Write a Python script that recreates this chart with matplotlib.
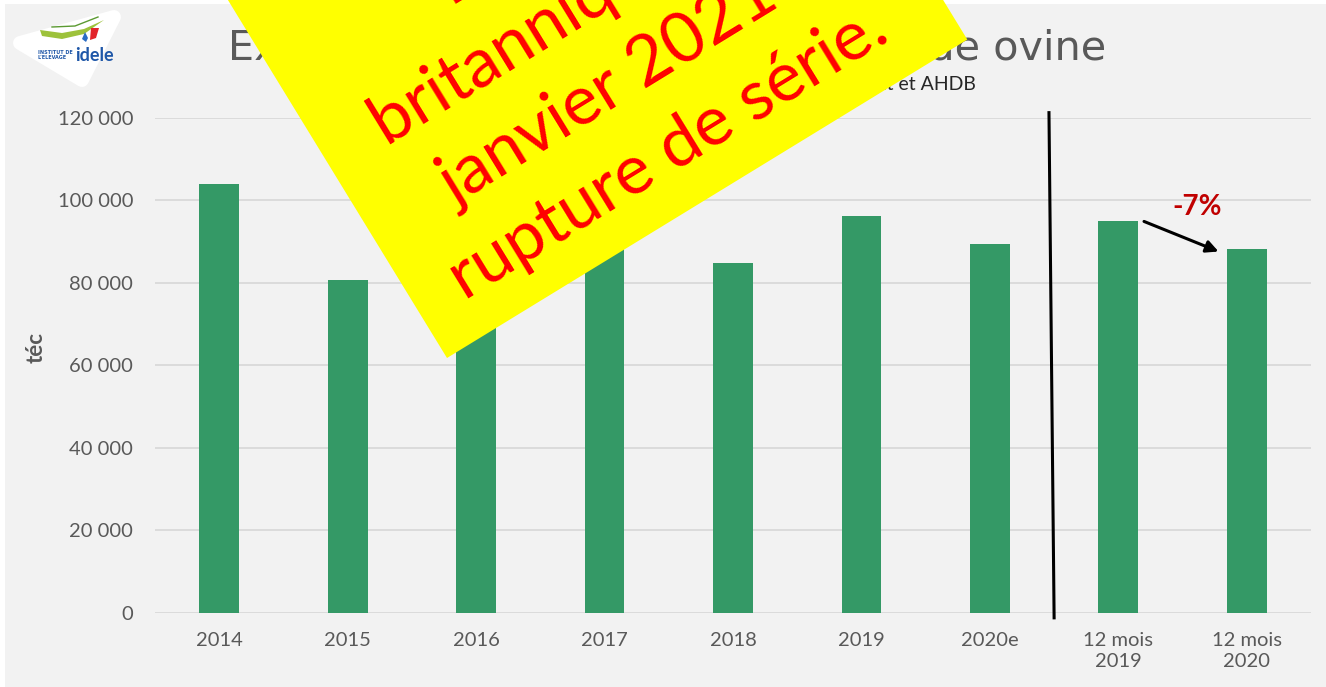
import matplotlib
matplotlib.use('Agg')
import matplotlib.pyplot as plt
from matplotlib.patches import Polygon, Rectangle
from matplotlib.lines import Line2D

# données : exportations britanniques de viande ovine (téc)
categories = ['2014', '2015', '2016', '2017', '2018', '2019', '2020e',
              '12 mois\n2019', '12 mois\n2020']
exports = [104100, 80800, 88000, 94000, 84700, 96300, 89400, 94900, 88200]
yticks = [0, 20000, 40000, 60000, 80000, 100000, 120000]
note_lines = ['Brexit :', 'britanniques en', 'janvier 2021 :',
              'rupture de série.']

W, H = 1326, 687
GREY = '#595959'


def fx(px):
    return px / W


def fy(py):
    return 1 - py / H


fig = plt.figure(figsize=(W / 100, H / 100), dpi=100)
fig.patch.set_facecolor('white')
# fond gris de la diapo
fig.add_artist(Rectangle((fx(5), 0), 1, fy(4), transform=fig.transFigure,
                         facecolor='#f2f2f2', edgecolor='none', zorder=-10))

ax = fig.add_axes([fx(155), fy(612.5), (1311 - 155) / W, (612.5 - 118) / H])
ax.set_facecolor('none')
x = list(range(len(categories)))
ax.bar(x, exports, width=0.31, color='#349966', zorder=3)
ax.set_xlim(-0.5, len(categories) - 0.5)
ax.set_ylim(0, 120000)
ax.set_yticks(yticks)
ax.set_yticklabels([f'{v:,}'.replace(',', ' ') for v in yticks])
ax.set_xticks(x)
ax.set_xticklabels(categories, linespacing=1.25)
ax.grid(axis='y', color='#d9d9d9', lw=1.3, zorder=0)
ax.set_axisbelow(True)
for s in ax.spines.values():
    s.set_visible(False)
ax.tick_params(axis='y', length=0, pad=15.8, labelsize=14.5, labelcolor=GREY)
ax.tick_params(axis='x', length=0, pad=14.4, labelsize=14.5, labelcolor=GREY)
for lab in ax.get_xticklabels() + ax.get_yticklabels():
    lab.set_family('Lato')
ax.set_ylabel('téc', fontweight='bold', color=GREY, fontsize=16, family='Lato')
ax.yaxis.set_label_coords(-0.094, 0.535)

# séparation annuel / cumul 12 mois
ax.plot([6.46, 6.5], [121300, -1300], color='black', lw=2.2,
        clip_on=False, zorder=4)

# flèche et variation
ax.annotate('', xy=(7.78, exports[8] - 600), xytext=(7.2, exports[7]),
            arrowprops=dict(arrowstyle='-|>', color='black', lw=2.2,
                            mutation_scale=18, shrinkA=0, shrinkB=0),
            zorder=5)
pct = (exports[8] / exports[7] - 1) * 100
ax.text(7.61, 98300, f'{pct:.0f}%', ha='center', va='center',
        fontsize=20, fontweight='bold', color='#c00000', family='Lato')

# titre et source
fig.text(fx(228), fy(60), 'Exportations britanniques de viande ovine',
         ha='left', va='baseline', fontsize=29.8, color=GREY,
         family='DejaVu Sans')
fig.text(fx(976), fy(90),
         "Source : GEB-Institut de l'Elevage d'après Eurostat et AHDB",
         ha='right', va='baseline', fontsize=14, color='#262626', family='Lato')

# logo
fig.add_artist(Polygon([(fx(20), fy(43)), (fx(114), fy(17)), (fx(82), fy(80))],
                       closed=True, transform=fig.transFigure, facecolor='white',
                       edgecolor='white', lw=10, joinstyle='round', zorder=1))
fig.add_artist(Polygon([(fx(40), fy(30)), (fx(62), fy(33)), (fx(84), fy(29)),
                        (fx(104), fy(20)), (fx(84), fy(34)), (fx(62), fy(39)),
                        (fx(42), fy(36))], closed=True,
                       transform=fig.transFigure, facecolor='#9dc23b',
                       edgecolor='none', zorder=2))
fig.add_artist(Line2D([fx(52), fx(75), fx(98)], [fy(27), fy(26), fy(17)],
                      transform=fig.transFigure, color='#5b9a32', lw=1.0,
                      zorder=2))
fig.add_artist(Polygon([(fx(91), fy(28)), (fx(99), fy(28)), (fx(96), fy(38)),
                        (fx(90), fy(40))], closed=True,
                       transform=fig.transFigure, facecolor='#e2232a',
                       edgecolor='none', zorder=2))
fig.add_artist(Polygon([(fx(85), fy(32)), (fx(88), fy(38)), (fx(86), fy(42)),
                        (fx(82), fy(39))], closed=True,
                       transform=fig.transFigure, facecolor='#2a6cc4',
                       edgecolor='none', zorder=2))
fig.text(fx(38), fy(59), "INSTITUT DE\nL'ELEVAGE", ha='left', va='baseline',
         fontsize=3.5, fontweight='bold', color='#1f57a8', linespacing=1.1,
         zorder=2)
fig.text(fx(75), fy(61), 'idele', ha='left', va='baseline', fontsize=13,
         fontweight='bold', color='#1f57a8', family='Lato', zorder=2)

# bandeau jaune
ang = 31.5
d = (0.853, -0.522)
n = (-0.522, -0.853)
A = (447, 358)
L, T = 610, 700
B = (A[0] + L * d[0], A[1] + L * d[1])
C = (B[0] + T * n[0], B[1] + T * n[1])
D = (A[0] + T * n[0], A[1] + T * n[1])
fig.add_artist(Polygon([(fx(p[0]), fy(p[1])) for p in (A, B, C, D)],
                       closed=True, transform=fig.transFigure,
                       facecolor='#ffff00', edgecolor='none', zorder=10))
c4 = (678, 170)
gap = 86
for i, line in enumerate(reversed(note_lines)):
    cx = c4[0] + i * gap * n[0]
    cy = c4[1] + i * gap * n[1]
    fig.text(fx(cx), fy(cy), line, rotation=ang, rotation_mode='anchor',
             ha='center', va='baseline', color='#ff0000', fontsize=50,
             family='Lato', zorder=11)

fig.savefig('out.png', dpi=100, facecolor=fig.get_facecolor())
